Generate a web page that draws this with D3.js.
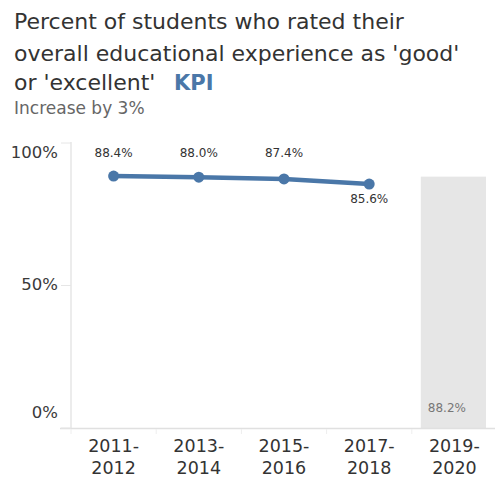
<!DOCTYPE html>
<html><head><meta charset="utf-8">
<script src="https://cdn.jsdelivr.net/npm/d3@7/dist/d3.min.js"></script>
<style>body{margin:0;background:#fff;}svg{display:block;font-family:"DejaVu Sans",sans-serif;}</style>
</head><body>
<svg id="c" width="495" height="480"></svg>
<script>
const categories = ["2011-2012","2013-2014","2015-2016","2017-2018","2019-2020"];
const lineCats = ["2011-2012","2013-2014","2015-2016","2017-2018"];
const lineValues = [88.4, 88.0, 87.4, 85.6];
const targetCat = "2019-2020";
const targetValue = 88.2;
const yTicks = [0, 50, 100];
const labelBelow = [false, false, false, true];

const svg = d3.select("#c");
const mLeft = 71, mRight = 497, mTop = 143, mBottom = 428;
const x = d3.scaleBand().domain(categories).range([mLeft, mRight]).paddingInner(0).paddingOuter(0);
const y = d3.scaleLinear().domain([0, 100]).range([mBottom, mTop]);

// title
const t = svg.append("text").attr("x", 14).attr("fill", "#333").attr("font-size", 22);
t.append("tspan").attr("x", 14).attr("y", 29).text("Percent of students who rated their");
t.append("tspan").attr("x", 14).attr("y", 61).text("overall educational experience as 'good'");
t.append("tspan").attr("x", 14).attr("y", 90).text("or 'excellent'");
svg.append("text").attr("x", 174).attr("y", 90).attr("font-size", 21).attr("font-weight", "bold")
  .attr("fill", "#4a77a8").text("KPI");
svg.append("text").attr("x", 14).attr("y", 114).attr("font-size", 17).attr("fill", "#666").text("Increase by 3%");

// target bar
svg.append("rect").attr("x", x(targetCat) + 9).attr("width", x.bandwidth() - 20)
  .attr("y", y(targetValue)).attr("height", y(0) - y(targetValue)).attr("fill", "#e6e6e6");
svg.append("text").attr("x", x(targetCat) + 16).attr("y", 412).attr("font-size", 12).attr("fill", "#777")
  .text(targetValue.toFixed(1) + "%");

// axes
svg.append("line").attr("x1", mLeft).attr("x2", mLeft).attr("y1", mTop - 1).attr("y2", mBottom)
  .attr("stroke", "#d9d9d9").attr("stroke-width", 1);
svg.append("line").attr("x1", 60).attr("x2", 495).attr("y1", mBottom + 0.5).attr("y2", mBottom + 0.5)
  .attr("stroke", "#e0e0e0").attr("stroke-width", 1.5);
yTicks.forEach(v => {
  svg.append("line").attr("x1", 61).attr("x2", mLeft).attr("y1", y(v)).attr("y2", y(v))
    .attr("stroke", "#e6e6e6").attr("stroke-width", 1);
});
const yl = svg.append("g").attr("font-size", 16.5).attr("fill", "#3a3a3a").attr("text-anchor", "end");
yl.selectAll("text").data(yTicks).join("text")
  .attr("x", 58)
  .attr("y", d => d === 100 ? y(d) + 15 : d === 0 ? y(d) - 10 : y(d) + 4)
  .text(d => d + "%");

// x ticks
categories.forEach(c => {
  svg.append("line").attr("x1", x(c)).attr("x2", x(c)).attr("y1", mBottom + 1).attr("y2", mBottom + 6)
    .attr("stroke", "#eee");
  const parts = c.split("-");
  const tx = svg.append("text").attr("x", x(c) + x.bandwidth() / 2).attr("text-anchor", "middle")
    .attr("font-size", 17.5).attr("fill", "#333");
  tx.append("tspan").attr("x", x(c) + x.bandwidth() / 2).attr("y", 452).text(parts[0] + "-");
  tx.append("tspan").attr("x", x(c) + x.bandwidth() / 2).attr("y", 474).text(parts[1]);
});

// line
const pts = lineCats.map((c, i) => ({c, v: lineValues[i], below: labelBelow[i]}));
const cx = d => x(d.c) + x.bandwidth() / 2;
svg.append("path").datum(pts)
  .attr("d", d3.line().x(cx).y(d => y(d.v)))
  .attr("fill", "none").attr("stroke", "#4a77a8").attr("stroke-width", 4.5).attr("stroke-linecap", "round");
svg.selectAll("circle.p").data(pts).join("circle").attr("class", "p")
  .attr("cx", cx).attr("cy", d => y(d.v)).attr("r", 5.5).attr("fill", "#4a77a8");
svg.selectAll("text.pl").data(pts).join("text").attr("class", "pl")
  .attr("x", cx).attr("text-anchor", "middle").attr("font-size", 12).attr("fill", "#333")
  .attr("y", d => d.below ? y(d.v) + 19 : 157)
  .text(d => d.v.toFixed(1) + "%");
</script>
</body></html>
